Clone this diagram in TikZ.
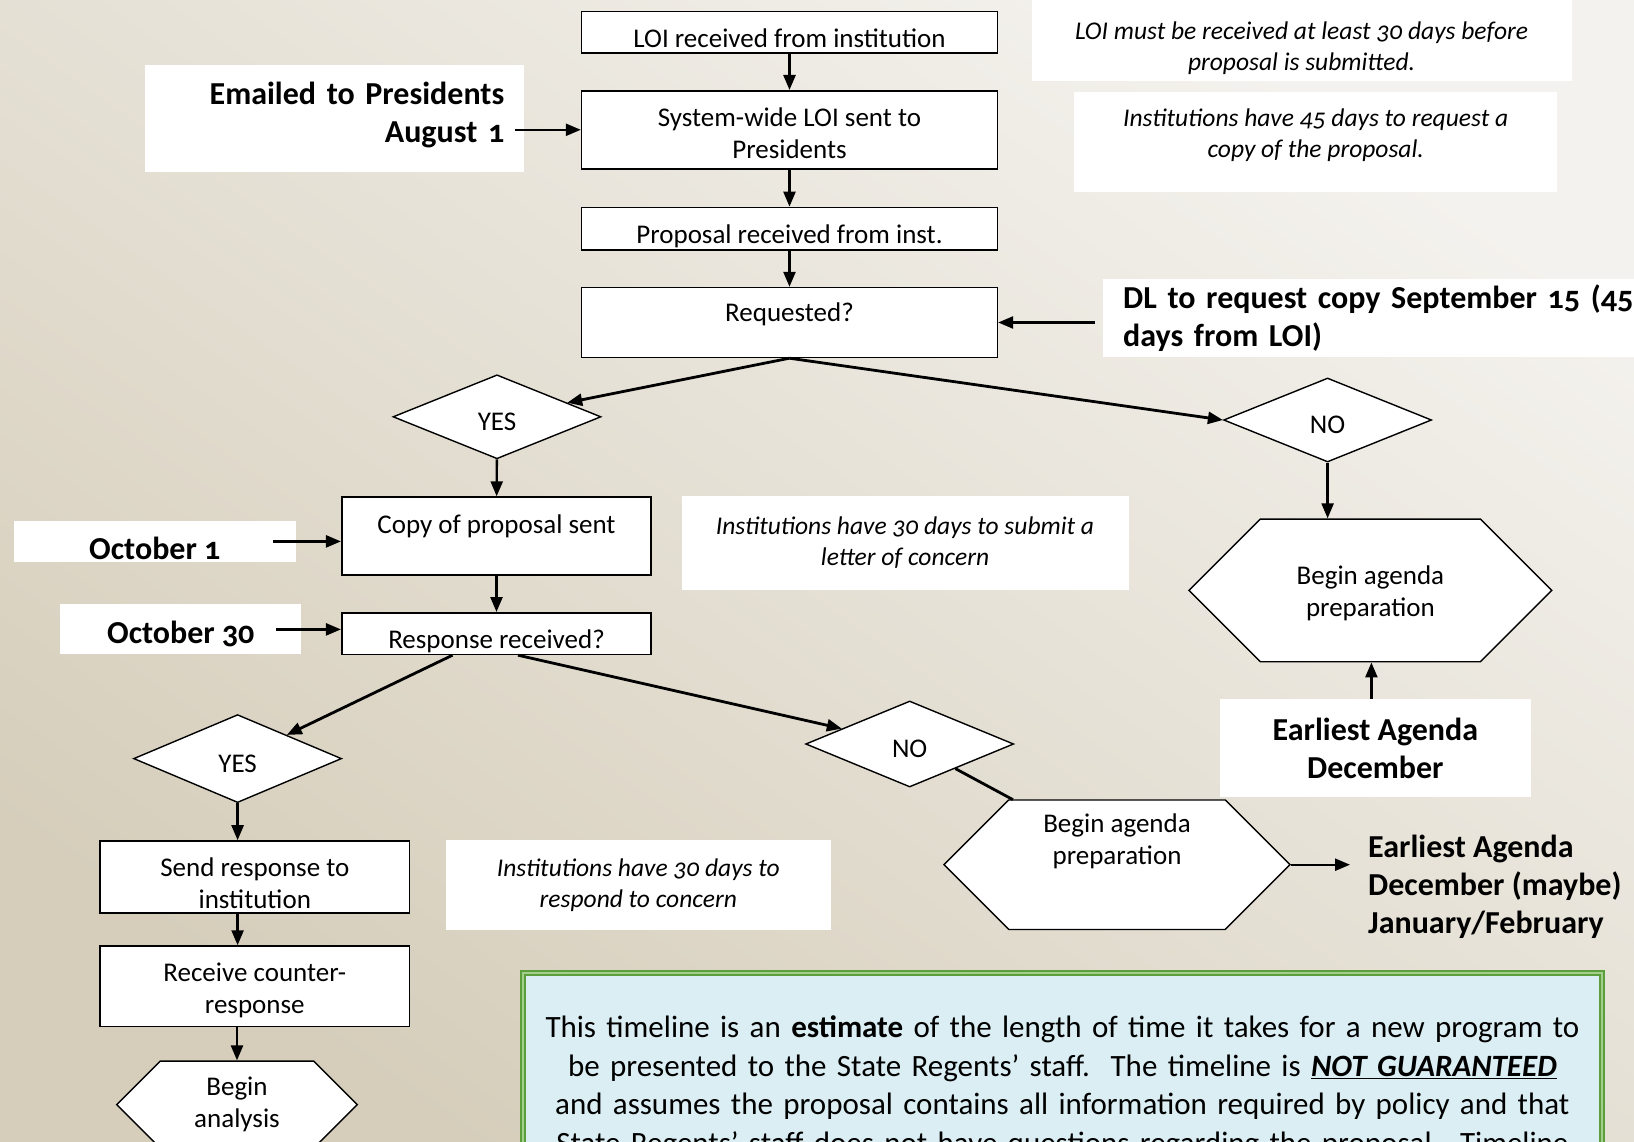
\documentclass[tikz,border=0pt]{standalone}
\usepackage{fontspec}
\setmainfont{Carlito}[Numbers=OldStyle]
\usetikzlibrary{arrows.meta,shapes.geometric,shapes.symbols,calc}
\definecolor{bgtop}{HTML}{F4F2EE}
\definecolor{bgbot}{HTML}{D6CEBB}
\definecolor{grnA}{HTML}{5C9E3C}
\definecolor{grnB}{HTML}{A2D08C}
\definecolor{estfill}{HTML}{DAEEF3}

\begin{document}
\begin{tikzpicture}[x=1pt, y=-1pt,
        box/.style = {draw, fill=white, line width=1.6pt, align=center,
                      inner sep=0pt, font=\fontsize{27}{32}\selectfont},
        dec/.style = {diamond, draw, fill=white, line width=1.4pt, inner sep=0pt,
                      minimum width=208pt, minimum height=84pt,
                      font=\fontsize{27}{32}\selectfont},
        hexa/.style = {signal, signal to=east and west, signal pointer angle=90,
                       draw, fill=white, line width=1.4pt, align=center,
                       inner sep=0pt, font=\fontsize{27}{32}\selectfont},
        note/.style = {fill=white, align=center, inner sep=0pt,
                       font=\itshape\fontsize{25.5}{31}\selectfont},
        datebox/.style = {fill=white, inner sep=0pt, align=center,
                          font=\bfseries\fontsize{32}{38}\selectfont},
        estbox/.style = {draw=grnA, double=grnB, double distance=2pt, line width=2pt,
                         fill=estfill, align=center, font=\fontsize{31}{38.5}\selectfont},
        arr/.style = {-{Triangle[length=15pt,width=12pt]}, line width=2.4pt},
        branch/.style = {arr, line width=2.8pt}]
    \useasboundingbox (0,0) rectangle (1634,1142);
    \clip (0,0) rectangle (1634,1142);
    \shade[top color=bgtop, bottom color=bgbot, shading angle=-35] (0,0) rectangle (1634,1142);

    \node[box, minimum width=415.8pt, minimum height=41.6pt] (loi) at (789.5,32.3) {\rule{0pt}{30pt}LOI received from institution};
    \node[box, minimum width=415.8pt, minimum height=78pt] (sys) at (789.5,129.8) {\rule{0pt}{26pt}System-wide LOI sent to\\Presidents};
    \node[box, minimum width=415.8pt, minimum height=42.7pt] (prop) at (789.5,228.8) {\rule{0pt}{34pt}Proposal received from inst.};
    \node[box, minimum width=415.8pt, minimum height=69.8pt, text depth=20pt] (req) at (789.5,322.5) {Requested?};

    \node[dec] (yesA) at (497,416.8) {\rule{0pt}{28pt}YES};
    \node[dec] (noA) at (1327.6,420) {\rule{0pt}{28pt}NO};
    \node[box, minimum width=309.5pt, minimum height=78pt, text depth=24pt] (copy) at (496.5,536.1) {Copy of proposal sent};
    \node[box, minimum width=309.5pt, minimum height=41.6pt] (resp) at (496.5,633.6) {\rule{0pt}{34pt}Response received?};
    \node[dec, minimum height=88pt] (yesB) at (237.6,758.6) {\rule{0pt}{28pt}YES};
    \node[dec, minimum height=86pt] (noB) at (909.7,744) {\rule{0pt}{28pt}NO};
    \node[box, minimum width=309.5pt, minimum height=72pt] (send) at (254.8,877) {\rule{0pt}{31pt}Send response to\\institution};
    \node[box, minimum width=309.5pt, minimum height=80.5pt] (recv) at (254.8,986.3) {\rule{0pt}{26pt}Receive counter-\\response};
    \node[hexa, minimum width=240.6pt, minimum height=87pt] (anal) at (237,1104.6) {Begin\\analysis};
    \node[hexa, minimum width=362.7pt, minimum height=142.7pt] (hexA) at (1370.4,590.4) {\rule{0pt}{25pt}Begin agenda\\preparation};
    \node[hexa, minimum width=346pt, minimum height=129.5pt] (hexB) at (1117,864.7) {\rule{0pt}{28pt}Begin agenda\\preparation\\[18pt]\strut};

    \node[datebox, minimum width=379.4pt, minimum height=107.3pt, text width=339.4pt,
          align=right, inner xsep=20pt] (email) at (334.5,118.3) {Emailed to Presidents\\August 1\rule[-12pt]{0pt}{12pt}};
    \node[datebox, minimum width=282.5pt, minimum height=40.7pt] (oct1) at (154.8,541.4) {\rule{0pt}{36pt}October 1};
    \node[datebox, minimum width=240.8pt, minimum height=50pt] (oct30) at (180.8,629.4) {\rule{0pt}{32pt}October 30};
    \node[datebox, anchor=west, minimum width=560pt, minimum height=78.4pt, text width=520pt,
          align=left, inner xsep=20.5pt] (dl) at (1102.5,318.2) {DL to request copy September 15 (45\\days from LOI)};
    \node[datebox, minimum width=310.8pt, minimum height=98pt] (agA) at (1375.4,748) {Earliest Agenda\\December};
    \node[datebox, fill=none, align=left, anchor=west] (agB) at (1368,887) {Earliest Agenda\\December (maybe)\\January/February};

    \node[note, minimum width=539.8pt, minimum height=81.3pt] (nLOI) at (1301.6,40.6) {\rule{0pt}{32pt}LOI must be received at least 30 days before\\proposal is submitted.};
    \node[note, minimum width=482.6pt, minimum height=100pt] (n45) at (1315.7,141.7) {Institutions have 45 days to request a\\copy of the proposal.\rule[-18pt]{0pt}{18pt}};
    \node[note, minimum width=447pt, minimum height=93.8pt] (nLetter) at (905,542.9) {Institutions have 30 days to submit a\\letter of concern};
    \node[note, minimum width=384.5pt, minimum height=89.5pt] (nResp) at (638.3,884.8) {Institutions have 30 days to\\respond to concern};

    \node[estbox, anchor=north, minimum width=1078.7pt, text width=1040pt, inner ysep=38pt] (est) at (1062.4,972)
        {\strut This timeline is an \textbf{estimate} of the length of time it takes for a new program to\\
         be presented to the State Regents' staff.\ \ The timeline is \textbf{\textit{\underline{NOT GUARANTEED}}}\\
         and assumes the proposal contains all information required by policy and that\\
         State Regents' staff does not have questions regarding the proposal.\ \ Timeline};

    \draw[arr] (loi) -- (sys);
    \draw[arr] (sys) -- (prop);
    \draw[arr] (prop) -- (req);
    \draw[branch] (req.south) -- (yesA);
    \draw[branch] (req.south) -- (noA.west);
    \draw[arr] (yesA) -- (copy);
    \draw[arr] (copy) -- (resp);
    \draw[branch] ($(resp.south)+(-44,0)$) -- (yesB);
    \draw[branch] ($(resp.south)+(21.5,0)$) -- (noB);
    \draw[line width=2.8pt] (noB) -- (hexB.148);
    \draw[arr] (noA) -- (noA.south |- hexA.north);
    \draw[arr] ($(agA.north)+(-4,0)$) -- ($(agA.north |- hexA.south)+(-4,0)$);
    \draw[arr] (yesB) -- (yesB.south |- send.north);
    \draw[arr] (send.south -| yesB.south) -- (recv.north -| yesB.south);
    \draw[arr] (recv.south -| anal.north) -- (anal.north);
    \draw[arr] ($(email.east |- sys.west)+(-9,0)$) -- (sys.west);
    \draw[arr] ($(oct1.east)+(-23,0)$) -- (oct1.east -| copy.west);
    \draw[arr] ($(oct30.east)+(-25,0)$) -- (oct30.east -| resp.west);
    \draw[arr] ($(dl.west |- req.east)+(-8,0)$) -- (req.east);
    \draw[arr] (hexB.east) -- ($(agB.west |- hexB.east)+(-18,0)$);
\end{tikzpicture}
\end{document}
